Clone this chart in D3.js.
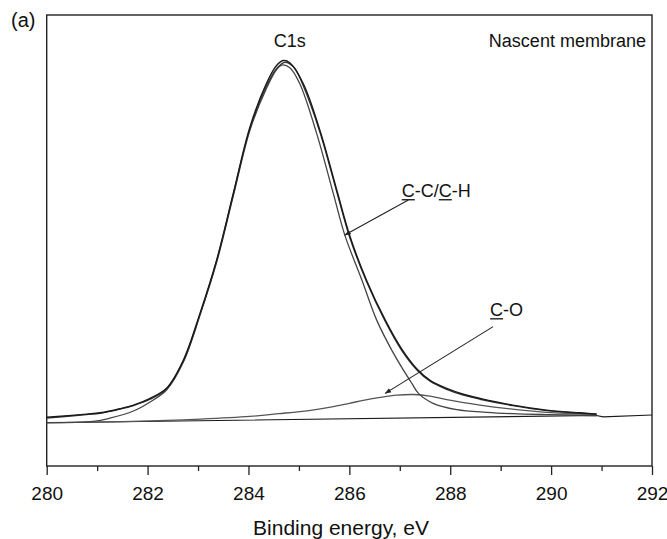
<!DOCTYPE html>
<html>
<head>
<meta charset="utf-8">
<script src="https://cdn.jsdelivr.net/npm/d3@7"></script>
<style>
  body { margin: 0; background: #fff; }
  svg { display: block; font-family: "Liberation Sans", Arial, sans-serif; }
</style>
</head>
<body>
<svg width="667" height="539"></svg>
<script>
// binding energy (eV) ticks
const majorTicks = [280, 282, 284, 286, 288, 290, 292];
const minorTicks = [281, 283, 285, 287, 289, 291];

// curves: [binding energy, intensity (a.u.)]
const rawData = [
  [280.00, 10.8], [280.79, 11.5], [281.06, 11.8], [281.45, 12.7], [281.72, 13.5],
  [282.05, 15.0], [282.38, 17.3], [282.71, 23.5], [283.04, 33.9], [283.37, 45.7],
  [283.70, 60.5], [284.03, 75.2], [284.36, 84.9], [284.55, 88.7], [284.69, 89.9],
  [284.82, 89.4], [285.09, 84.7], [285.42, 74.3], [285.75, 61.2], [286.01, 51.0],
  [286.34, 41.2], [286.71, 32.4], [287.04, 25.9], [287.34, 21.5], [287.60, 19.0],
  [287.93, 17.2], [288.26, 15.9], [288.59, 15.0], [289.24, 13.5], [289.91, 12.4],
  [290.57, 11.8], [290.90, 11.5]
];
const envelope = [
  [280.00, 10.6], [280.79, 11.4], [281.06, 11.7], [281.45, 12.6], [281.72, 13.4],
  [282.05, 14.8], [282.38, 17.1], [282.71, 23.2], [283.04, 33.6], [283.37, 45.5],
  [283.70, 60.3], [284.03, 74.8], [284.36, 84.3], [284.55, 88.0], [284.72, 89.5],
  [284.90, 88.4], [285.09, 84.2], [285.42, 73.9], [285.75, 60.8], [286.01, 50.6],
  [286.34, 40.9], [286.71, 32.1], [287.04, 25.6], [287.34, 21.3], [287.60, 18.8],
  [287.93, 17.0], [288.26, 15.7], [288.59, 14.8], [289.24, 13.4], [289.91, 12.3],
  [290.57, 11.7], [290.90, 11.5]
];
const compCC = [
  [280.00, 9.6], [280.92, 9.9], [281.25, 10.6], [281.72, 12.2], [282.05, 14.2],
  [282.38, 16.9], [282.71, 23.1], [283.04, 33.5], [283.37, 45.2], [283.70, 59.9],
  [284.03, 74.5], [284.36, 83.8], [284.55, 87.8], [284.66, 88.9], [284.82, 88.3],
  [285.02, 84.7], [285.35, 73.8], [285.68, 60.5], [285.91, 51.2], [286.25, 41.2],
  [286.54, 32.4], [286.84, 25.7], [287.07, 21.3], [287.24, 18.3], [287.37, 16.1],
  [287.66, 13.9], [288.13, 12.5], [288.72, 11.9], [289.24, 11.6], [289.91, 11.4],
  [290.90, 11.2]
];
const compCO = [
  [280.00, 9.6], [281.00, 9.75], [282.05, 10.0], [283.04, 10.4], [284.03, 11.0],
  [284.60, 11.6], [285.20, 12.3], [285.60, 13.0], [286.00, 13.9], [286.30, 14.6],
  [286.61, 15.2], [286.94, 15.7], [287.27, 15.85], [287.60, 15.5], [287.93, 14.7],
  [288.59, 13.5], [289.24, 12.6], [289.91, 11.9], [290.90, 11.5]
];
const background = [[280.00, 9.6], [290.90, 11.2], [291.03, 10.9], [292.00, 11.3]];

// annotations (data units)
const labels = [
  { text: "C1s", x: 284.82, y: 92.9, anchor: "middle" },
  { text: "Nascent membrane", x: 291.88, y: 93.0, anchor: "end" }
];
const callouts = [
  { parts: ["C", "-C/", "C", "-H"], x: 287.04, y: 59.7, from: [287.17, 59.0], to: [285.91, 51.2] },
  { parts: ["C", "-O"], x: 288.79, y: 33.3, from: [288.85, 30.9], to: [286.71, 16.1] }
];

const svg = d3.select("svg");
const margin = { left: 46.7, right: 15, top: 15, bottom: 73 };
const W = 667, H = 539;

const x = d3.scaleLinear().domain([280, 292]).range([margin.left, W - margin.right]);
const y = d3.scaleLinear().domain([0, 100]).range([H - margin.bottom, margin.top]);

svg.append("defs").append("marker")
  .attr("id", "arr")
  .attr("viewBox", "0 0 10 10")
  .attr("refX", 9).attr("refY", 5)
  .attr("markerWidth", 6).attr("markerHeight", 6)
  .attr("orient", "auto")
  .append("path").attr("d", "M0,1.5L10,5L0,8.5Z").attr("fill", "#222");

// minor ticks
svg.append("g")
  .attr("transform", `translate(0,${y(0)})`)
  .call(d3.axisBottom(x).tickValues(minorTicks).tickSize(5).tickFormat(""))
  .call(g => g.select(".domain").remove())
  .call(g => g.selectAll("line").attr("stroke", "#222").attr("stroke-width", 1.3));

// major ticks + labels
svg.append("g")
  .attr("transform", `translate(0,${y(0)})`)
  .call(d3.axisBottom(x).tickValues(majorTicks).tickSize(9).tickFormat(d3.format("d")))
  .call(g => g.select(".domain").remove())
  .call(g => g.selectAll("line").attr("stroke", "#222").attr("stroke-width", 1.3))
  .call(g => g.selectAll("text")
    .attr("y", 34).attr("dy", null)
    .attr("fill", "#111")
    .style("font-size", "19px")
    .style("font-family", "'Liberation Sans', Arial, sans-serif"));

// frame
svg.append("rect")
  .attr("x", x(280)).attr("y", y(100))
  .attr("width", x(292) - x(280)).attr("height", y(0) - y(100))
  .attr("fill", "none").attr("stroke", "#222").attr("stroke-width", 1.4);

const smooth = d3.line().x(d => x(d[0])).y(d => y(d[1])).curve(d3.curveCatmullRom.alpha(0.5));
const straight = d3.line().x(d => x(d[0])).y(d => y(d[1]));

svg.append("path").datum(background).attr("d", straight)
  .attr("fill", "none").attr("stroke", "#1a1a1a").attr("stroke-width", 1.1);
svg.append("path").datum(compCO).attr("d", smooth)
  .attr("fill", "none").attr("stroke", "#555").attr("stroke-width", 1.3);
svg.append("path").datum(compCC).attr("d", smooth)
  .attr("fill", "none").attr("stroke", "#444").attr("stroke-width", 1.3);
svg.append("path").datum(envelope).attr("d", smooth)
  .attr("fill", "none").attr("stroke", "#333").attr("stroke-width", 1.3);
svg.append("path").datum(rawData).attr("d", smooth)
  .attr("fill", "none").attr("stroke", "#1a1a1a").attr("stroke-width", 1.4);

// text labels
svg.append("text").attr("x", 11).attr("y", 27)
  .attr("fill", "#111").style("font-size", "20px").text("(a)");

labels.forEach(l => {
  svg.append("text")
    .attr("x", x(l.x)).attr("y", y(l.y))
    .attr("text-anchor", l.anchor)
    .attr("fill", "#111").style("font-size", "18px")
    .text(l.text);
});

callouts.forEach(c => {
  const t = svg.append("text")
    .attr("x", x(c.x)).attr("y", y(c.y))
    .attr("fill", "#111").style("font-size", "18px");
  c.parts.forEach(p => t.append("tspan").text(p));
  // underline the carbon atoms ("C" parts at even index)
  const node = t.node();
  let offset = 0;
  c.parts.forEach((p, i) => {
    if (i % 2 === 0) {
      const x0 = node.getSubStringLength(0, offset);
      const w = node.getSubStringLength(offset, p.length);
      svg.append("line")
        .attr("x1", x(c.x) + x0).attr("x2", x(c.x) + x0 + w)
        .attr("y1", y(c.y) + 3).attr("y2", y(c.y) + 3)
        .attr("stroke", "#111").attr("stroke-width", 1.3);
    }
    offset += p.length;
  });
  svg.append("line")
    .attr("x1", x(c.from[0])).attr("y1", y(c.from[1]))
    .attr("x2", x(c.to[0])).attr("y2", y(c.to[1]))
    .attr("stroke", "#222").attr("stroke-width", 1.1)
    .attr("marker-end", "url(#arr)");
});

// axis title
svg.append("text")
  .attr("x", 341).attr("y", 535)
  .attr("text-anchor", "middle")
  .attr("fill", "#111").style("font-size", "21px")
  .text("Binding energy, eV");
</script>
</body>
</html>
